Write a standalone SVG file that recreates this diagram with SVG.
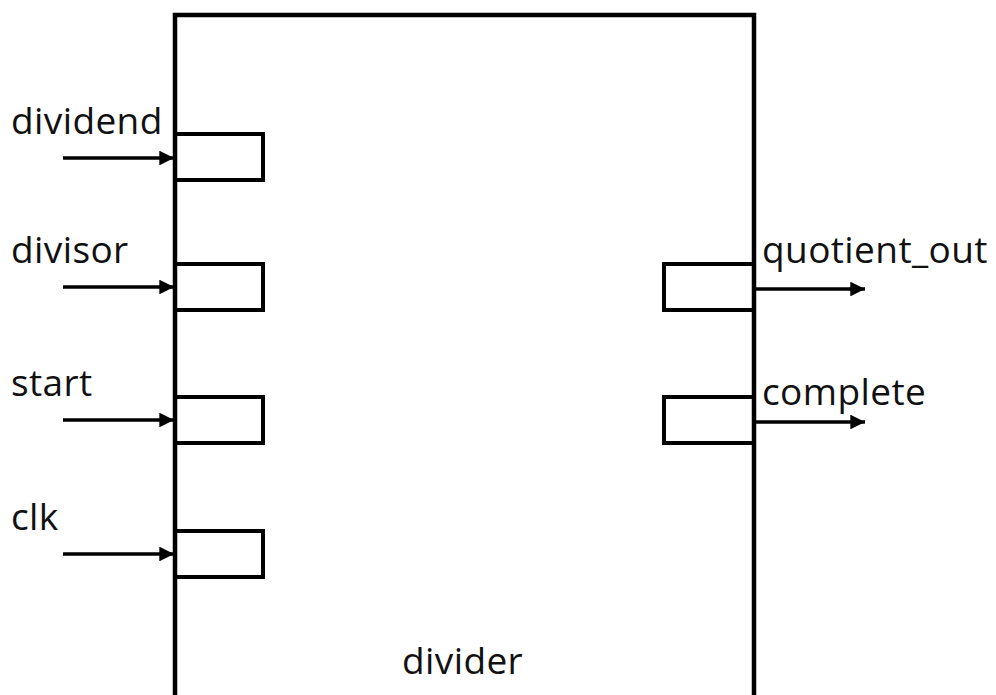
<svg xmlns="http://www.w3.org/2000/svg" width="996" height="695" viewBox="0 0 996 695">
<defs>
<style>
.box{fill:none;stroke:#000;stroke-width:4.5}
.port{fill:none;stroke:#000;stroke-width:4}
.wire{stroke:#000;stroke-width:3.5;fill:none}
.lbl{font-family:"Open Sans","Liberation Sans",sans-serif;font-size:37px;letter-spacing:0.4px;fill:#111}
</style>
<marker id="ah" viewBox="0 0 10 10" refX="10" refY="5" markerWidth="4.2" markerHeight="4.2" markerUnits="strokeWidth" orient="auto">
<path d="M0,0 L10,5 L0,10 z" fill="#000"/>
</marker>
</defs>
<rect width="996" height="695" fill="#fff"/>
<g id="port-dividend">
<path class="port" d="M175,134 H263 V180 H175"/>
<text class="lbl" x="11" y="134">dividend</text>
</g>
<g id="port-divisor">
<path class="port" d="M175,264 H263 V310 H175"/>
<text class="lbl" x="11" y="263">divisor</text>
</g>
<g id="port-start">
<path class="port" d="M175,397 H263 V443 H175"/>
<text class="lbl" x="11" y="396">start</text>
</g>
<g id="port-clk">
<path class="port" d="M175,531 H263 V577 H175"/>
<text class="lbl" x="11" y="530">clk</text>
</g>
<g id="port-quotient_out">
<path class="port" d="M754,264 H664 V310 H754"/>
<text class="lbl" x="762" y="263">quotient_out</text>
</g>
<g id="port-complete">
<path class="port" d="M754,397 H664 V443 H754"/>
<text class="lbl" x="762" y="405">complete</text>
</g>
<g id="divider">
<path class="box" d="M175,710 V15 H754 V710"/>
<text class="lbl" x="402" y="674">divider</text>
</g>
<g id="connectors">
<line class="wire" x1="63" y1="158" x2="174" y2="158" marker-end="url(#ah)"/>
<line class="wire" x1="63" y1="287" x2="174" y2="287" marker-end="url(#ah)"/>
<line class="wire" x1="63" y1="420" x2="174" y2="420" marker-end="url(#ah)"/>
<line class="wire" x1="63" y1="554" x2="174" y2="554" marker-end="url(#ah)"/>
<line class="wire" x1="756" y1="289" x2="865" y2="289" marker-end="url(#ah)"/>
<line class="wire" x1="756" y1="422" x2="865" y2="422" marker-end="url(#ah)"/>
</g>
</svg>
